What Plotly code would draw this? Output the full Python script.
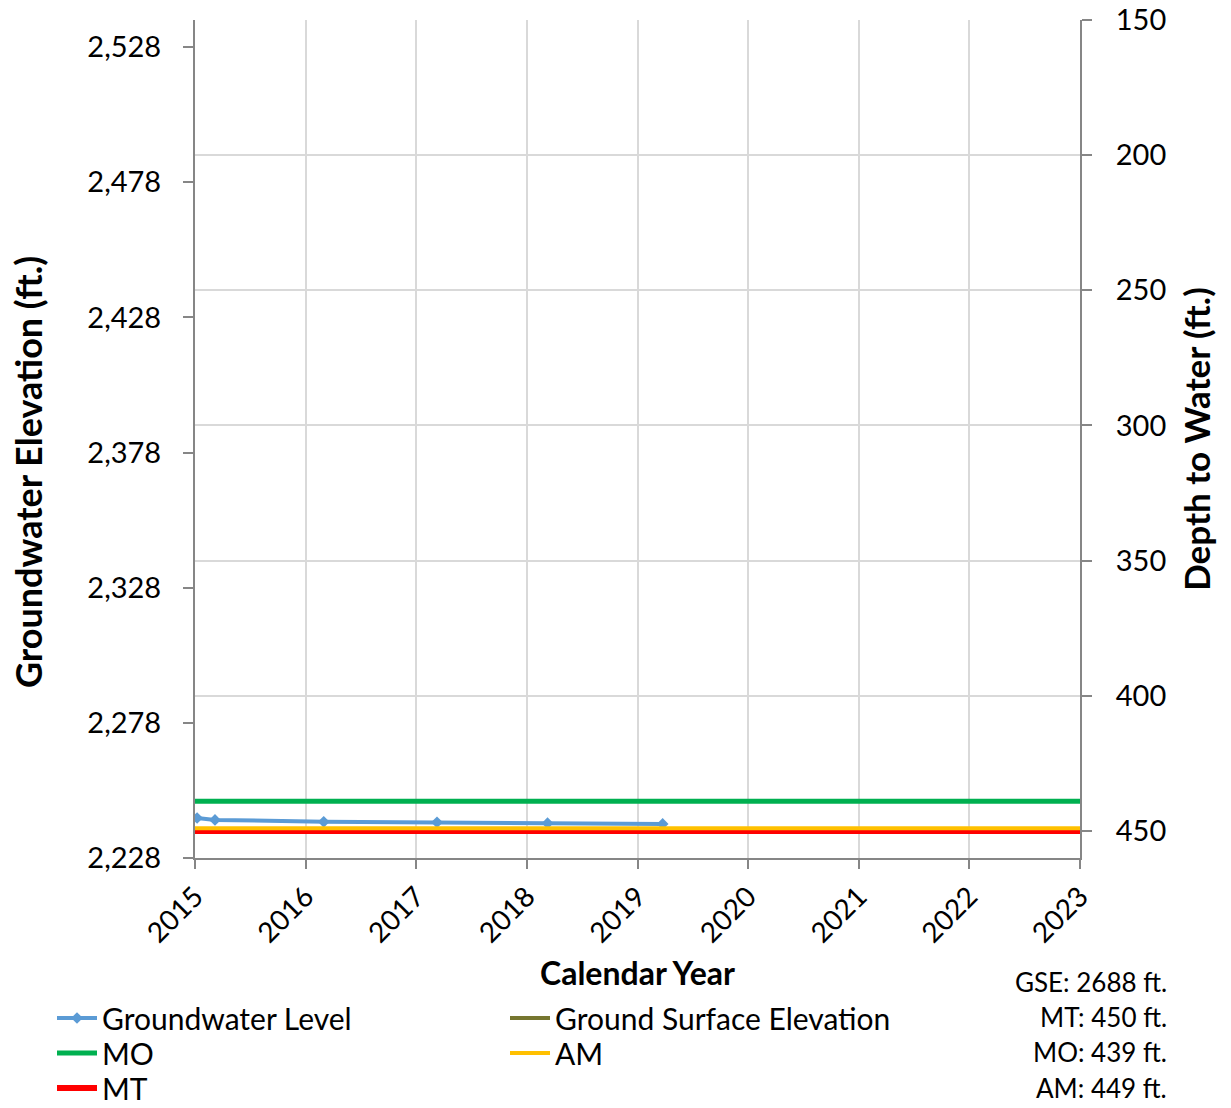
import plotly.graph_objects as go

# ---- data ----
gw_dates = ["2015-01-08", "2015-03-08", "2016-03-01", "2017-03-10", "2018-03-10", "2019-03-25"]
gw_elev = [2242.8, 2242.1, 2241.4, 2241.2, 2240.9, 2240.6]

gse = 2688
mt_depth = 450
mo_depth = 439
am_depth = 449

x_start = "2015-01-01"
x_end = "2023-01-01"

left_ticks = [2228, 2278, 2328, 2378, 2428, 2478, 2528]
right_ticks = [150, 200, 250, 300, 350, 400, 450]
left_range = [2228, 2538]

FONT = "Lato"
BLUE = "#5B9BD5"
GREEN = "#00B050"
RED = "#FF0000"
ORANGE = "#FFC000"
OLIVE = "#76762F"
AXIS = "#868686"
GRID = "#d9d9d9"

W, H = 1231, 1108
ML, MR, MT_, MB = 195, 151, 20, 250
PW, PH = W - ML - MR, H - MT_ - MB

fig = go.Figure()

fig.add_trace(go.Scatter(
    x=gw_dates, y=gw_elev, mode="lines+markers", name="Groundwater Level",
    line=dict(color=BLUE, width=4), marker=dict(color=BLUE, size=9, symbol="diamond"),
    legend="legend",
))
fig.add_trace(go.Scatter(
    x=[x_start, x_end], y=[gse, gse], mode="lines", name="Ground Surface Elevation",
    line=dict(color=OLIVE, width=4), legend="legend2",
))
fig.add_trace(go.Scatter(
    x=[x_start, x_end], y=[gse - mo_depth] * 2, mode="lines", name="MO",
    line=dict(color=GREEN, width=5), legend="legend3",
))
fig.add_trace(go.Scatter(
    x=[x_start, x_end], y=[gse - mt_depth] * 2, mode="lines", name="MT",
    line=dict(color=RED, width=6), legend="legend5",
))
fig.add_trace(go.Scatter(
    x=[x_start, x_end], y=[gse - am_depth] * 2, mode="lines", name="AM",
    line=dict(color=ORANGE, width=4), legend="legend4",
))
# invisible trace on the right axis (depth)
fig.add_trace(go.Scatter(
    x=[x_start, x_end], y=[gse - left_range[1], gse - left_range[0]], yaxis="y2",
    mode="lines", line=dict(width=0), showlegend=False, hoverinfo="skip", opacity=0,
))


def leg(px, py):
    return dict(
        xref="container", yref="container",
        x=px / W, xanchor="left", y=1 - py / H, yanchor="middle",
        orientation="h", font=dict(size=30), itemwidth=40,
        bgcolor="rgba(0,0,0,0)",
    )


fig.update_layout(
    width=W, height=H,
    margin=dict(l=ML, r=MR, t=MT_, b=MB, autoexpand=False),
    paper_bgcolor="white", plot_bgcolor="white",
    font=dict(family=FONT, size=28, color="black"),
    xaxis=dict(
        type="date", range=[x_start, x_end], dtick="M12", tick0=x_start,
        tickformat="%Y", tickangle=-45, automargin=False,
        showgrid=True, gridcolor=GRID, gridwidth=1.5,
        showline=True, linecolor=AXIS, linewidth=2,
        ticks="outside", ticklen=9, tickcolor=AXIS, tickwidth=1.5,
        tickfont=dict(size=28),
        title=dict(text="<b>Calendar Year</b>", font=dict(size=32), standoff=22),
        zeroline=False,
    ),
    yaxis=dict(
        range=left_range, tickvals=left_ticks, tickformat=",", automargin=False,
        showgrid=False, zeroline=False,
        showline=True, linecolor=AXIS, linewidth=2,
        ticks="outside", ticklen=10, tickcolor=AXIS, tickwidth=1.5,
        ticklabelstandoff=16,
        tickfont=dict(size=29),
    ),
    yaxis2=dict(
        overlaying="y", side="right", automargin=False,
        range=[gse - left_range[0], gse - left_range[1]], tickvals=right_ticks,
        showgrid=True, gridcolor=GRID, gridwidth=1.5, zeroline=False,
        showline=True, linecolor=AXIS, linewidth=2,
        ticks="outside", ticklen=10, tickcolor=AXIS, tickwidth=1.5,
        ticklabelstandoff=18,
        tickfont=dict(size=29),
        title=dict(text="<b>Depth to Water (ft.)</b>", font=dict(size=35), standoff=20),
    ),
    yaxis3=dict(
        overlaying="y", side="left", anchor="x", range=left_range, tickvals=left_ticks,
        showticklabels=False, showgrid=False, zeroline=False, showline=False,
        ticks="inside", ticklen=9, tickcolor=AXIS, tickwidth=1.5,
    ),
    yaxis4=dict(
        overlaying="y", side="right", anchor="x",
        range=[gse - left_range[0], gse - left_range[1]], tickvals=right_ticks,
        showticklabels=False, showgrid=False, zeroline=False, showline=False,
        ticks="inside", ticklen=9, tickcolor=AXIS, tickwidth=1.5,
    ),
    legend=leg(52, 1018),
    legend2=leg(505, 1018),
    legend3=leg(52, 1053),
    legend4=leg(505, 1053),
    legend5=leg(52, 1088),
    showlegend=True,
)

# left axis title (placed slightly below centre, as in the original)
fig.add_annotation(
    text="<b>Groundwater Elevation (ft.)</b>", textangle=-90,
    xref="paper", yref="paper",
    x=(28 - ML) / PW, y=(H - MB - 472) / PH, xanchor="center", yanchor="middle",
    showarrow=False, font=dict(size=36),
)

notes = [f"GSE: {gse} ft.", f"MT: {mt_depth} ft.", f"MO: {mo_depth} ft.", f"AM: {am_depth} ft."]
note_y = [982, 1017, 1052, 1088]
for txt, py in zip(notes, note_y):
    fig.add_annotation(
        text=txt, xref="paper", yref="paper",
        x=(1169 - ML) / PW, xanchor="right",
        y=(H - MB - py) / PH, yanchor="middle",
        showarrow=False, font=dict(size=26),
    )

fig.write_html(
    "out.html",
    config={"displayModeBar": False},
    post_script="document.body.style.margin='0';document.body.style.overflow='hidden';",
)
